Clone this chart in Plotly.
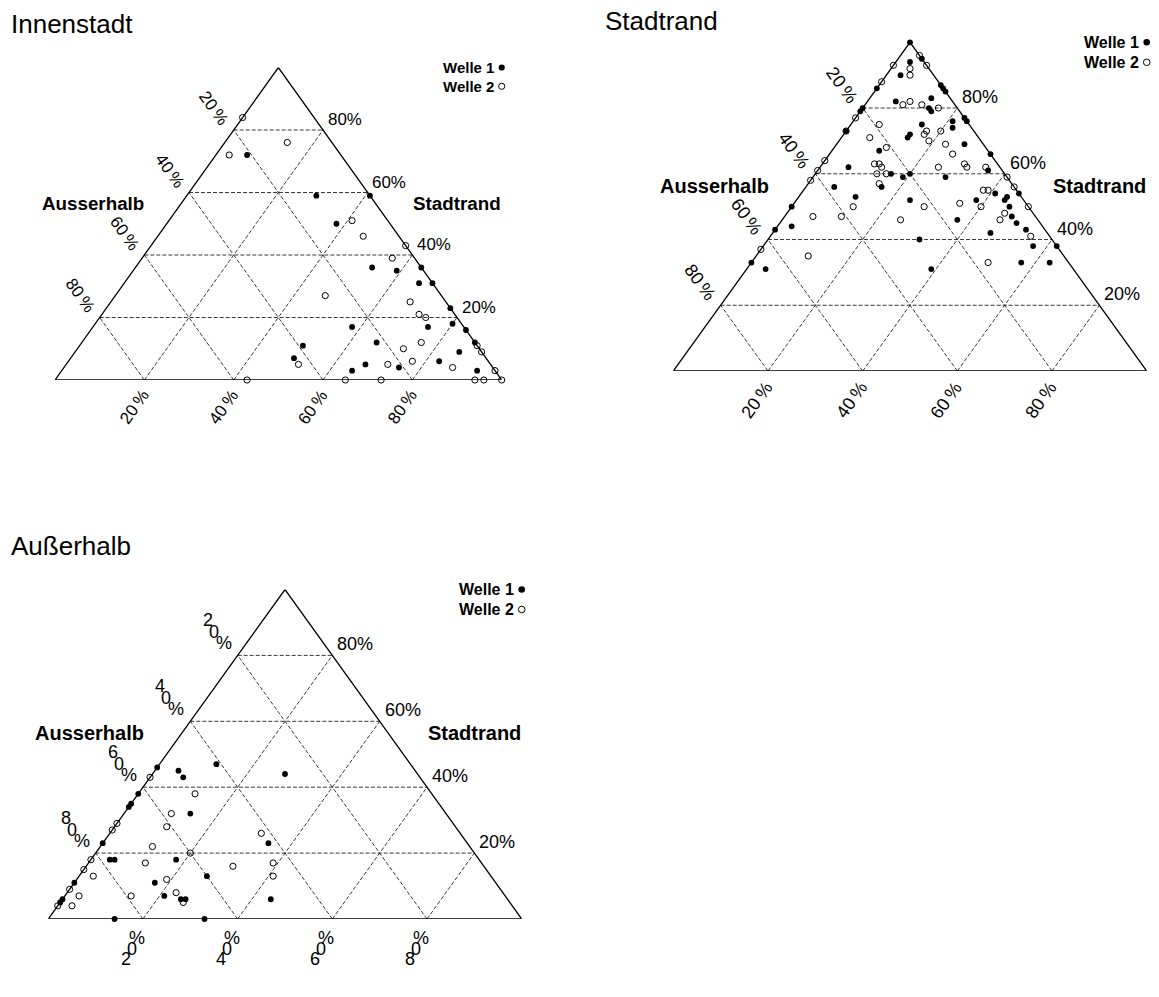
import math
import plotly.graph_objects as go

FIG_W, FIG_H = 1159, 997
FONT = "Liberation Sans, Arial, Helvetica, sans-serif"
TICKS = [20, 40, 60, 80]

# ---------------- Innenstadt: shares (%) per respondent ----------------
innen_w1_innenstadt = [7, 29, 41, 38, 53, 59, 64, 66, 69, 77, 80, 75, 84, 88, 58, 66, 50, 50, 67, 65, 75, 86, 83, 93]
innen_w1_stadtrand = [72, 59, 59, 50, 36, 35, 36, 31, 31, 23, 18, 17, 16, 12, 17, 12, 11, 7, 5, 3, 4, 9, 6, 3]
innen_w1_ausserhalb = [21, 12, 0, 12, 11, 6, 0, 3, 0, 0, 2, 8, 0, 0, 25, 22, 39, 43, 28, 32, 21, 5, 11, 4]

innen_w2_innenstadt = [0, 14, 3, 41, 46, 57, 56, 47, 67, 71, 73, 76, 73, 77, 72, 52, 87, 89, 91, 97, 43, 65, 73, 94, 96, 100]
innen_w2_stadtrand = [84, 76, 72, 51, 46, 43, 39, 27, 25, 21, 20, 12, 10, 6, 5, 5, 4, 11, 9, 3, 0, 0, 0, 0, 0, 0]
innen_w2_ausserhalb = [16, 10, 25, 8, 8, 0, 5, 26, 8, 8, 7, 12, 17, 17, 23, 43, 9, 0, 0, 0, 57, 35, 27, 6, 4, 0]

# ---------------- Stadtrand ----------------
stadt_w1_innenstadt = [0, 5, 13, 14, 15, 23, 24, 34, 46, 62,
                       0, 0, 0, 0, 0, 0, 0,
                       3, 3, 6, 13, 14, 15, 21, 22, 15, 14, 14, 27, 10, 6, 16, 19, 20, 28, 36, 16, 6, 12,
                       24, 37, 38, 41, 44, 44, 46, 48, 50, 53, 46, 57, 32, 3, 57, 63, 39, 4]
stadt_w1_stadtrand = [100, 95, 87, 86, 85, 77, 76, 66, 54, 38,
                      86, 80, 79, 73, 50, 43, 33,
                      94, 90, 82, 83, 80, 79, 76, 74, 75, 72, 71, 69, 67, 62, 60, 59, 60, 59, 61, 56, 56, 53,
                      52, 46, 52, 54, 53, 52, 50, 47, 45, 43, 42, 38, 40, 44, 33, 33, 31, 31]
stadt_w1_ausserhalb = [0, 0, 0, 0, 0, 0, 0, 0, 0, 0,
                       14, 20, 21, 27, 50, 57, 67,
                       3, 7, 12, 4, 6, 6, 3, 4, 10, 14, 15, 4, 23, 32, 24, 22, 20, 13, 3, 28, 38, 35,
                       24, 17, 10, 5, 3, 4, 4, 5, 5, 4, 12, 5, 28, 53, 10, 4, 30, 65]

stadt_w2_innenstadt = [4, 7, 4, 5, 0, 0, 0, 0, 0, 0, 0, 8, 9, 12, 16, 6, 6, 11, 17, 17, 19, 20, 23, 26, 30, 31,
                       35, 25, 11, 12, 13, 13, 15, 15, 13, 12, 6, 28, 25, 35, 38, 39, 40, 46, 46, 55, 41, 44,
                       50, 11, 50, 0]
stadt_w2_stadtrand = [96, 93, 92, 90, 93, 88, 77, 73, 64, 61, 58, 81, 82, 81, 80, 75, 71, 68, 73, 72, 70, 73, 69,
                      66, 63, 62, 62, 62, 63, 63, 62, 60, 60, 57, 50, 47, 47, 50, 46, 51, 55, 55, 50, 48, 46, 41,
                      59, 56, 50, 35, 33, 37]
stadt_w2_ausserhalb = [0, 0, 4, 5, 7, 12, 23, 27, 36, 39, 42, 11, 9, 7, 4, 19, 23, 21, 10, 11, 11, 7, 8, 8, 7, 7,
                       3, 13, 26, 25, 25, 27, 25, 28, 37, 41, 47, 22, 29, 14, 7, 6, 10, 6, 8, 4, 0, 0, 0, 54, 17,
                       63]

# ---------------- Außerhalb ----------------
aussen_w1_innenstadt = [0, 0, 0, 0, 0, 0, 0, 0, 5, 7, 12, 28, 14, 35, 4, 5, 18, 17, 21, 25, 26, 27, 44, 14, 33]
aussen_w1_stadtrand = [46, 38, 35, 34, 23, 11, 6, 5, 45, 43, 47, 44, 32, 23, 18, 18, 18, 11, 7, 6, 6, 13, 6, 0, 0]
aussen_w1_ausserhalb = [54, 62, 65, 66, 77, 89, 94, 95, 50, 50, 41, 28, 54, 42, 78, 77, 64, 72, 72, 69, 68, 60, 50, 86, 67]

aussen_w2_innenstadt = [0, 12, 10, 11, 0, 0, 0, 0, 0, 0, 11, 12, 3, 3, 3, 19, 14, 23, 26, 20, 31, 32, 39, 41]
aussen_w2_stadtrand = [43, 38, 32, 28, 29, 27, 18, 15, 9, 4, 22, 17, 13, 7, 4, 12, 7, 8, 5, 20, 16, 26, 17, 13]
aussen_w2_ausserhalb = [57, 50, 58, 61, 71, 73, 82, 85, 91, 96, 67, 71, 84, 90, 93, 69, 79, 69, 69, 60, 53, 42, 44, 46]

AXIS_NAMES = {"left": "Ausserhalb", "right": "Stadtrand", "bottom": "Innenstadt"}
WAVE_NAMES = ["Welle 1", "Welle 2"]

panels = [
    dict(title="Innenstadt",
         waves=[(innen_w1_innenstadt, innen_w1_stadtrand), (innen_w2_innenstadt, innen_w2_stadtrand)],
         box=(55.0, 501.7, 380.0, 67.5), scale=0.94, title_px=(9, 24), split_labels=False),
    dict(title="Stadtrand",
         waves=[(stadt_w1_innenstadt, stadt_w1_stadtrand), (stadt_w2_innenstadt, stadt_w2_stadtrand)],
         box=(673.3, 1146.7, 371.0, 42.3), scale=1.0, title_px=(603, 21), split_labels=False),
    dict(title="Außerhalb",
         waves=[(aussen_w1_innenstadt, aussen_w1_stadtrand), (aussen_w2_innenstadt, aussen_w2_stadtrand)],
         box=(48.3, 521.7, 919.0, 589.5), scale=1.0, title_px=(9, 546), split_labels=True),
]


def tern_xy(inn, sta):
    """Project (Innenstadt, Stadtrand) shares onto the triangle plane."""
    return [i + s / 2.0 for i, s in zip(inn, sta)], [float(s) for s in sta]


fig = go.Figure()
annotations = []
shapes = []
layout_axes = {}

for n, p in enumerate(panels, start=1):
    xa = "x" if n == 1 else f"x{n}"
    ya = "y" if n == 1 else f"y{n}"
    left, right, base, apex = p["box"]
    sc = p["scale"]
    layout_axes["xaxis" if n == 1 else f"xaxis{n}"] = dict(
        domain=[left / FIG_W, right / FIG_W], range=[0, 100], visible=False, fixedrange=True)
    layout_axes["yaxis" if n == 1 else f"yaxis{n}"] = dict(
        domain=[1 - base / FIG_H, 1 - apex / FIG_H], range=[0, 100], visible=False,
        fixedrange=True, anchor=xa)
    edge_angle = math.degrees(math.atan(2 * (base - apex) / (right - left)))

    # dashed grid
    gx, gy = [], []
    for k in TICKS:
        for seg in (((0, k), (100 - k, k)),        # Stadtrand = k
                    ((k, 0), (k, 100 - k)),        # Innenstadt = k
                    ((100 - k, 0), (0, 100 - k))):  # Ausserhalb = k
            xs, ys = tern_xy([seg[0][0], seg[1][0]], [seg[0][1], seg[1][1]])
            gx += xs + [None]
            gy += ys + [None]
    fig.add_trace(go.Scatter(x=gx, y=gy, mode="lines", xaxis=xa, yaxis=ya, hoverinfo="skip",
                             line=dict(color="#222222", width=0.9, dash="4px,2px")))

    # outline
    ox, oy = tern_xy([0, 100, 0, 0], [0, 0, 100, 0])
    fig.add_trace(go.Scatter(x=ox, y=oy, mode="lines", xaxis=xa, yaxis=ya, hoverinfo="skip",
                             cliponaxis=False, line=dict(color="black", width=1.3)))

    # respondents
    for w, (inn, sta) in enumerate(p["waves"]):
        px, py = tern_xy(inn, sta)
        if w == 0:
            marker = dict(symbol="circle", size=5.8, color="black", line=dict(width=0))
        else:
            marker = dict(symbol="circle-open", size=6.2, color="black", line=dict(width=1))
        fig.add_trace(go.Scatter(x=px, y=py, mode="markers", xaxis=xa, yaxis=ya, name=WAVE_NAMES[w],
                                 cliponaxis=False, marker=marker))

    def ann(text, x, y, size, xs=0.0, ys=0.0, angle=0.0, xanchor="center", bold=False):
        annotations.append(dict(
            text=f"<b>{text}</b>" if bold else text, x=x, y=y, xref=xa, yref=ya,
            xshift=xs, yshift=ys, textangle=angle, xanchor=xanchor, yanchor="middle",
            showarrow=False, font=dict(family=FONT, size=size, color="black")))

    tick_size = round(18 * sc, 1)
    for k in TICKS:
        # Stadtrand scale on the right edge
        rx, ry = tern_xy([100 - k], [k])
        ann(f"{k}%", rx[0], ry[0], tick_size, xs=23 * sc, ys=11 * sc)
        lx, ly = tern_xy([0], [100 - k])
        bx, by = tern_xy([k], [0])
        if p["split_labels"]:
            chars = [str(k // 10), "0", "%"]
            for ch, (dx, dy) in zip(chars, [(-30, 35), (-24, 23), (-14, 12)]):
                ann(ch, lx[0], ly[0], tick_size, xs=dx, ys=dy)
            for ch, (dx, dy) in zip(chars, [(-17, -40), (-11, -30), (-6, -19)]):
                ann(ch, bx[0], by[0], tick_size, xs=dx, ys=dy)
        else:
            ann(f"{k}\u2009%", lx[0], ly[0], tick_size, xs=-21 * sc, ys=23 * sc, angle=edge_angle)
            ann(f"{k}\u2009%", bx[0], by[0], tick_size, xs=-11 * sc, ys=-29 * sc, angle=-edge_angle)

    lab_size = round(20 * sc, 1)
    ann(AXIS_NAMES["left"], 8.6, 56.4, lab_size, bold=True)
    ann(AXIS_NAMES["right"], 90.0, 56.4, lab_size, bold=True)
    ann(AXIS_NAMES["bottom"], 50, -20.5, lab_size, bold=True)

    # wave key in the upper right corner (paper-anchored so it is not clipped)
    leg_size = round(16 * sc, 1)
    step = 20 * sc
    key_x, key_y = right / FIG_W, 1 - apex / FIG_H
    for w, wave in enumerate(WAVE_NAMES):
        ann(wave, 100, 100, leg_size, xs=-6 * sc, ys=-w * step, xanchor="right", bold=True)
        r = 3.3 * sc
        shapes.append(dict(
            type="circle", xref="paper", yref="paper", xsizemode="pixel", ysizemode="pixel",
            xanchor=key_x, yanchor=key_y, x0=-r, x1=r, y0=-w * step - r, y1=-w * step + r,
            fillcolor="black" if w == 0 else "white",
            line=dict(color="black", width=0 if w == 0 else 1)))

    # panel title
    tx, ty = p["title_px"]
    annotations.append(dict(
        text=p["title"], x=tx / FIG_W, y=1 - ty / FIG_H, xref="paper", yref="paper",
        xanchor="left", yanchor="middle", showarrow=False,
        font=dict(family=FONT, size=26, color="black")))

fig.update_layout(
    width=FIG_W, height=FIG_H, margin=dict(l=0, r=0, t=0, b=0),
    paper_bgcolor="white", plot_bgcolor="white", showlegend=False,
    annotations=annotations, shapes=shapes, **layout_axes)

fig.write_html("out.html")
